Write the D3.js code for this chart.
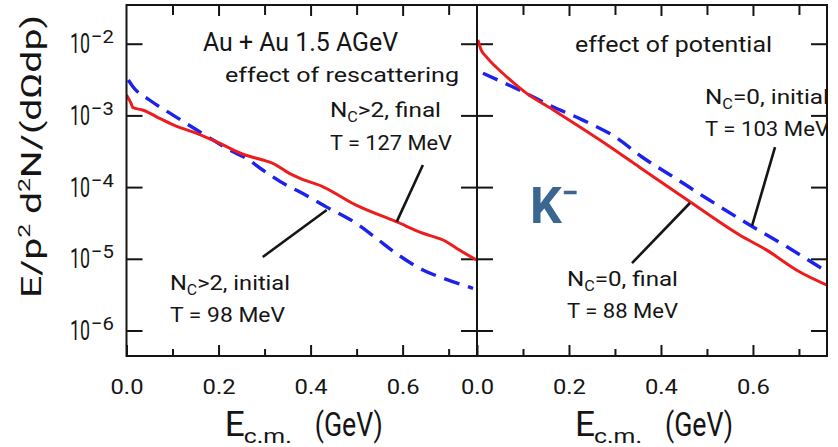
<!DOCTYPE html>
<html><head><meta charset="utf-8">
<script src="https://cdn.jsdelivr.net/npm/d3@7"></script>
<style>
body{margin:0;background:#fff}
svg{display:block}
text{font-family:Roboto,"DejaVu Sans",sans-serif;fill:#151515}
</style>
</head><body><svg id="c" width="838" height="447"></svg>
<script>
// ---- data ----
const xMajor = [0, 0.2, 0.4, 0.6];
const xMinor = [0.1, 0.3, 0.5, 0.7];
const yDecades = [-2, -3, -4, -5, -6];

// left panel: effect of rescattering
const leftFinalE = [0, 0.010, 0.014, 0.035, 0.072, 0.108, 0.144, 0.195, 0.253, 0.296, 0.318, 0.354, 0.376, 0.427, 0.499, 0.586, 0.644, 0.695, 0.717, 0.761];
const leftFinalY = [1.93e-3, 1.47e-3, 1.28e-3, 1.19e-3, 9.1e-4, 7.1e-4, 5.9e-4, 4.3e-4, 2.87e-4, 2.39e-4, 2.15e-4, 1.55e-4, 1.33e-4, 1.01e-4, 5.6e-5, 3.29e-5, 2.27e-5, 1.73e-5, 1.40e-5, 9.6e-6];
const leftInitE = [0.004, 0.014, 0.050, 0.101, 0.152, 0.188, 0.224, 0.260, 0.296, 0.354, 0.376, 0.434, 0.499, 0.543, 0.586, 0.644, 0.688, 0.753];
const leftInitY = [3.12e-3, 2.51e-3, 1.64e-3, 1.01e-3, 6.3e-4, 4.54e-4, 3.29e-4, 2.52e-4, 1.73e-4, 1.01e-4, 8.6e-5, 5.3e-5, 3.13e-5, 1.93e-5, 1.19e-5, 6.98e-6, 5.35e-6, 3.88e-6];

// right panel: effect of potential
const rightFinalE = [0.002, 0.009, 0.020, 0.056, 0.108, 0.166, 0.223, 0.289, 0.354, 0.463, 0.571, 0.629, 0.701, 0.761];
const rightFinalY = [1.13e-2, 8.2e-3, 6.6e-3, 3.87e-3, 2.03e-3, 1.19e-3, 6.95e-4, 3.66e-4, 1.88e-4, 6.25e-5, 2.15e-5, 1.33e-5, 6.6e-6, 4.3e-6];
const rightInitE = [0.013, 0.092, 0.165, 0.230, 0.303, 0.358, 0.426, 0.499, 0.593, 0.673, 0.761];
const rightInitY = [3.87e-3, 2.26e-3, 1.32e-3, 8.6e-4, 4.9e-4, 2.65e-4, 1.40e-4, 6.98e-5, 2.96e-5, 1.48e-5, 6.6e-6];

// leader lines (data coords: [E, value])
const leftInitLeader = [[0.296, 1.06e-5], [0.435, 4.8e-5]];
const leftFinalLeader = [[0.587, 3.27e-5], [0.644, 2.03e-4]];
const rightInitLeader = [[0.648, 3.62e-4], [0.598, 2.87e-5]];
const rightFinalLeader = [[0.337, 8.7e-6], [0.463, 6.0e-5]];

// ---- layout ----
const svg = d3.select("#c");
const T = 5, B = 356;
const y = d3.scaleLog().domain([Math.pow(10, -6.356), Math.pow(10, -1.46)]).range([B, T]);
const xL = d3.scaleLinear().domain([0, 0.7616]).range([126.5, 477]);
const xR = d3.scaleLinear().domain([0, 0.761]).range([477, 827]);
const RED = "#ee1d1d", BLUE = "#1c22ee", INK = "#151515";

const defs = svg.append("defs");
[["clipL", xL], ["clipR", xR]].forEach(([id, sx]) => {
  defs.append("clipPath").attr("id", id).append("rect")
    .attr("x", sx.range()[0]).attr("y", T).attr("width", sx.range()[1] - sx.range()[0]).attr("height", B - T);
});

function styleAxis(g) {
  g.select(".domain").remove();
  g.selectAll(".tick line").attr("stroke", INK).attr("stroke-width", 2);
}

function panel(sx, clipId, finE, finY, iniE, iniY) {
  // bottom axis
  svg.append("g").attr("transform", `translate(0,${B})`)
    .call(d3.axisBottom(sx).tickValues(xMajor).tickSize(-11).tickFormat(d3.format(".1f")))
    .call(styleAxis)
    .call(g => g.selectAll("text").attr("y", 23).attr("font-size", 21).attr("fill", INK)
      .attr("textLength", 33).attr("lengthAdjust", "spacingAndGlyphs"));
  svg.append("g").attr("transform", `translate(0,${B})`)
    .call(d3.axisBottom(sx).tickValues(xMinor).tickSize(-7).tickFormat(""))
    .call(styleAxis);
  // top axis
  svg.append("g").attr("transform", `translate(0,${T})`)
    .call(d3.axisTop(sx).tickValues(xMajor.filter(d => d > 0)).tickSize(-11).tickFormat(""))
    .call(styleAxis);
  svg.append("g").attr("transform", `translate(0,${T})`)
    .call(d3.axisTop(sx).tickValues(xMinor).tickSize(-10).tickFormat(""))
    .call(styleAxis);
  // y ticks on both sides
  const vals = yDecades.map(e => Math.pow(10, e));
  svg.append("g").attr("transform", `translate(${sx.range()[0]},0)`)
    .call(d3.axisLeft(y).tickValues(vals).tickSize(-16).tickFormat(""))
    .call(styleAxis);
  svg.append("g").attr("transform", `translate(${sx.range()[1]},0)`)
    .call(d3.axisRight(y).tickValues(vals).tickSize(-16).tickFormat(""))
    .call(styleAxis);

  const line = d3.line().x(d => sx(d[0])).y(d => y(d[1])).curve(d3.curveMonotoneX);
  const cg = svg.append("g").attr("clip-path", `url(#${clipId})`);
  cg.append("path").datum(iniE.map((e, i) => [e, iniY[i]]))
    .attr("d", line).attr("fill", "none").attr("stroke", BLUE).attr("stroke-width", 3.4)
    .attr("stroke-dasharray", "16 9");
  cg.append("path").datum(finE.map((e, i) => [e, finY[i]]))
    .attr("d", line).attr("fill", "none").attr("stroke", RED).attr("stroke-width", 3);
}

panel(xL, "clipL", leftFinalE, leftFinalY, leftInitE, leftInitY);
panel(xR, "clipR", rightFinalE, rightFinalY, rightInitE, rightInitY);

// frame
svg.append("rect").attr("x", xL.range()[0]).attr("y", T)
  .attr("width", xR.range()[1] - xL.range()[0]).attr("height", B - T)
  .attr("fill", "none").attr("stroke", INK).attr("stroke-width", 2);
svg.append("line").attr("x1", xR.range()[0]).attr("x2", xR.range()[0]).attr("y1", T).attr("y2", B)
  .attr("stroke", INK).attr("stroke-width", 2);

// y tick labels (10 with superscript exponent, one text element each)
yDecades.forEach(e => {
  const yy = y(Math.pow(10, e));
  const t = svg.append("text").attr("x", 70).attr("y", yy + 9.5).attr("font-size", 27);
  t.append("tspan").attr("textLength", 20).attr("lengthAdjust", "spacingAndGlyphs").text("10");
  t.append("tspan").attr("dx", 1).attr("dy", -10).attr("font-size", 19)
    .attr("textLength", 23).attr("lengthAdjust", "spacingAndGlyphs").text("\u2212" + (-e));
});

// y axis label
const yl = svg.append("text").attr("transform", "translate(41,156.5) rotate(-90)")
  .attr("text-anchor", "middle").attr("font-size", 27)
  .attr("textLength", 283).attr("lengthAdjust", "spacingAndGlyphs");
yl.append("tspan").text("E/p");
yl.append("tspan").attr("font-size", 17).attr("dy", -11).text("2");
yl.append("tspan").attr("dy", 11).text(" d");
yl.append("tspan").attr("font-size", 17).attr("dy", -11).text("2");
yl.append("tspan").attr("dy", 11).text("N/(d\u03A9dp)");

// x axis labels
[xL, xR].forEach(sx => {
  const c = (sx.range()[0] + sx.range()[1]) / 2;
  svg.append("text").attr("x", c - 77).attr("y", 436).attr("font-size", 35)
    .attr("textLength", 20).attr("lengthAdjust", "spacingAndGlyphs").text("E");
  svg.append("text").attr("x", c - 58).attr("y", 443).attr("font-size", 20)
    .attr("textLength", 48).attr("lengthAdjust", "spacingAndGlyphs").text("c.m.");
  svg.append("text").attr("x", c + 13).attr("y", 436).attr("font-size", 34)
    .attr("textLength", 68).attr("lengthAdjust", "spacingAndGlyphs").text("(GeV)");
});

// annotations
function label(x, yb, size, len, parts, clip) {
  const t = svg.append("text").attr("x", x).attr("y", yb).attr("font-size", size);
  if (len) t.attr("textLength", len).attr("lengthAdjust", "spacingAndGlyphs");
  if (clip) t.attr("clip-path", `url(#${clip})`);
  parts.forEach(p => {
    if (typeof p === "string") t.append("tspan").text(p);
    else t.append("tspan").attr("font-size", p.s).attr("dy", p.dy).text(p.t);
  });
  return t;
}
label(203, 51, 25, 195, ["Au + Au 1.5 AGeV"]);
label(225, 82, 21, 234, ["effect of rescattering"]);
label(330, 117, 21, 111, ["N", {t: "C", s: 14, dy: 5}, {t: ">2, final", s: 21, dy: -5}]);
label(330, 150, 21, 122, ["T = 127 MeV"]);
label(170, 290, 21, 120, ["N", {t: "C", s: 14, dy: 5}, {t: ">2, initial", s: 21, dy: -5}]);
label(170, 322, 21, 115, ["T = 98 MeV"]);
label(575, 52, 22, 197, ["effect of potential"]);
label(705, 104, 21, 124, ["N", {t: "C", s: 14, dy: 5}, {t: "=0, initial", s: 21, dy: -5}], "clipR");
label(705, 136, 21, 124, ["T = 103 MeV"], "clipR");
label(567, 286, 21, 111, ["N", {t: "C", s: 14, dy: 5}, {t: "=0, final", s: 21, dy: -5}]);
label(567, 318, 21, 111, ["T = 88 MeV"]);

// leaders
[[leftInitLeader, xL], [leftFinalLeader, xL], [rightInitLeader, xR], [rightFinalLeader, xR]].forEach(([pts, sx]) => {
  svg.append("path").attr("d", d3.line().x(d => sx(d[0])).y(d => y(d[1]))(pts))
    .attr("stroke", INK).attr("stroke-width", 2.6).attr("fill", "none");
});

// K- label
const k = svg.append("text").attr("x", 530).attr("y", 223).attr("font-size", 50)
  .attr("font-weight", "bold").style("fill", "#3a6791");
k.append("tspan").text("K");
k.append("tspan").attr("font-size", 30).attr("dy", -20).text("\u2212");
</script>
</body></html>
